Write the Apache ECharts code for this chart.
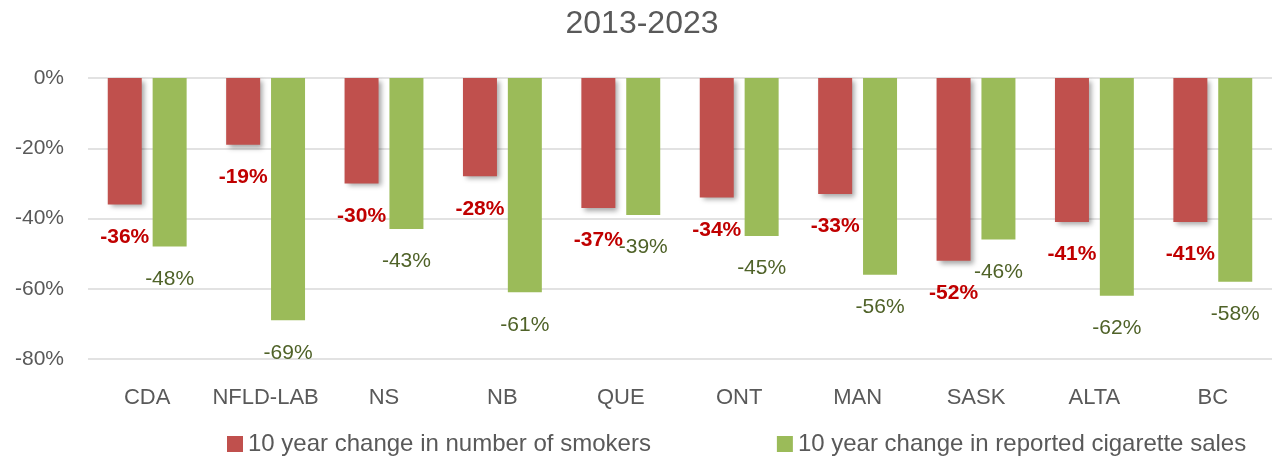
<!DOCTYPE html>
<html>
<head>
<meta charset="utf-8">
<script src="https://cdn.jsdelivr.net/npm/echarts@6/dist/echarts.min.js"></script>
<style>
html, body { margin: 0; padding: 0; background: #fff; }
#main { width: 1284px; height: 464px; }
</style>
</head>
<body>
<div id="main"></div>
<script>
var categories = ['CDA', 'NFLD-LAB', 'NS', 'NB', 'QUE', 'ONT', 'MAN', 'SASK', 'ALTA', 'BC'];
var smokers = [-36, -19, -30, -28, -37, -34, -33, -52, -41, -41];
var sales = [-48, -69, -43, -61, -39, -45, -56, -46, -62, -58];
var seriesNames = ['10 year change in number of smokers', '10 year change in reported cigarette sales'];

var font = '"Liberation Sans", Arial, sans-serif';
var myChart = echarts.init(document.getElementById('main'));
var option = {
    animation: false,
    title: {
        text: '2013-2023',
        left: 'center',
        top: 3,
        textStyle: {
            color: '#595959',
            fontSize: 32,
            fontWeight: 'normal',
            fontFamily: font
        }
    },
    legend: {
        bottom: 3,
        left: 222,
        itemWidth: 16,
        itemHeight: 16,
        itemGap: 126,
        icon: 'rect',
        textStyle: {
            color: '#595959',
            fontSize: 24,
            fontFamily: font
        },
        data: seriesNames
    },
    grid: {
        left: 88,
        right: 12,
        top: 78,
        bottom: 105,
        containLabel: false
    },
    xAxis: {
        type: 'category',
        data: categories,
        position: 'bottom',
        axisLine: { show: false },
        axisTick: { show: false },
        axisLabel: {
            interval: 0,
            color: '#595959',
            fontSize: 22,
            fontFamily: font,
            margin: 28
        }
    },
    yAxis: {
        type: 'value',
        min: -80,
        max: 0,
        interval: 20,
        axisLine: { show: false },
        axisTick: { show: false },
        axisLabel: {
            color: '#595959',
            fontSize: 21,
            fontFamily: font,
            margin: 24,
            formatter: function (v) { return v + '%'; }
        },
        splitLine: {
            lineStyle: { color: '#D9D9D9', width: 1.5 }
        }
    },
    series: [{
        name: seriesNames[0],
        type: 'bar',
        data: smokers,
        barWidth: 34,
        barGap: '32%',
        itemStyle: {
            color: '#C0504D',
            shadowColor: 'rgba(0,0,0,0.35)',
            shadowBlur: 5,
            shadowOffsetX: 3,
            shadowOffsetY: 3
        },
        label: {
            show: true,
            position: 'bottom',
            distance: 22,
            color: '#C00000',
            fontWeight: 'bold',
            fontSize: 21,
            fontFamily: font,
            formatter: '{c}%'
        }
    }, {
        name: seriesNames[1],
        type: 'bar',
        data: sales,
        barWidth: 34,
        itemStyle: {
            color: '#9BBB59'
        },
        label: {
            show: true,
            position: 'bottom',
            distance: 22,
            color: '#4F6228',
            fontSize: 21,
            fontFamily: font,
            formatter: '{c}%'
        }
    }]
};
myChart.setOption(option);
</script>
</body>
</html>
